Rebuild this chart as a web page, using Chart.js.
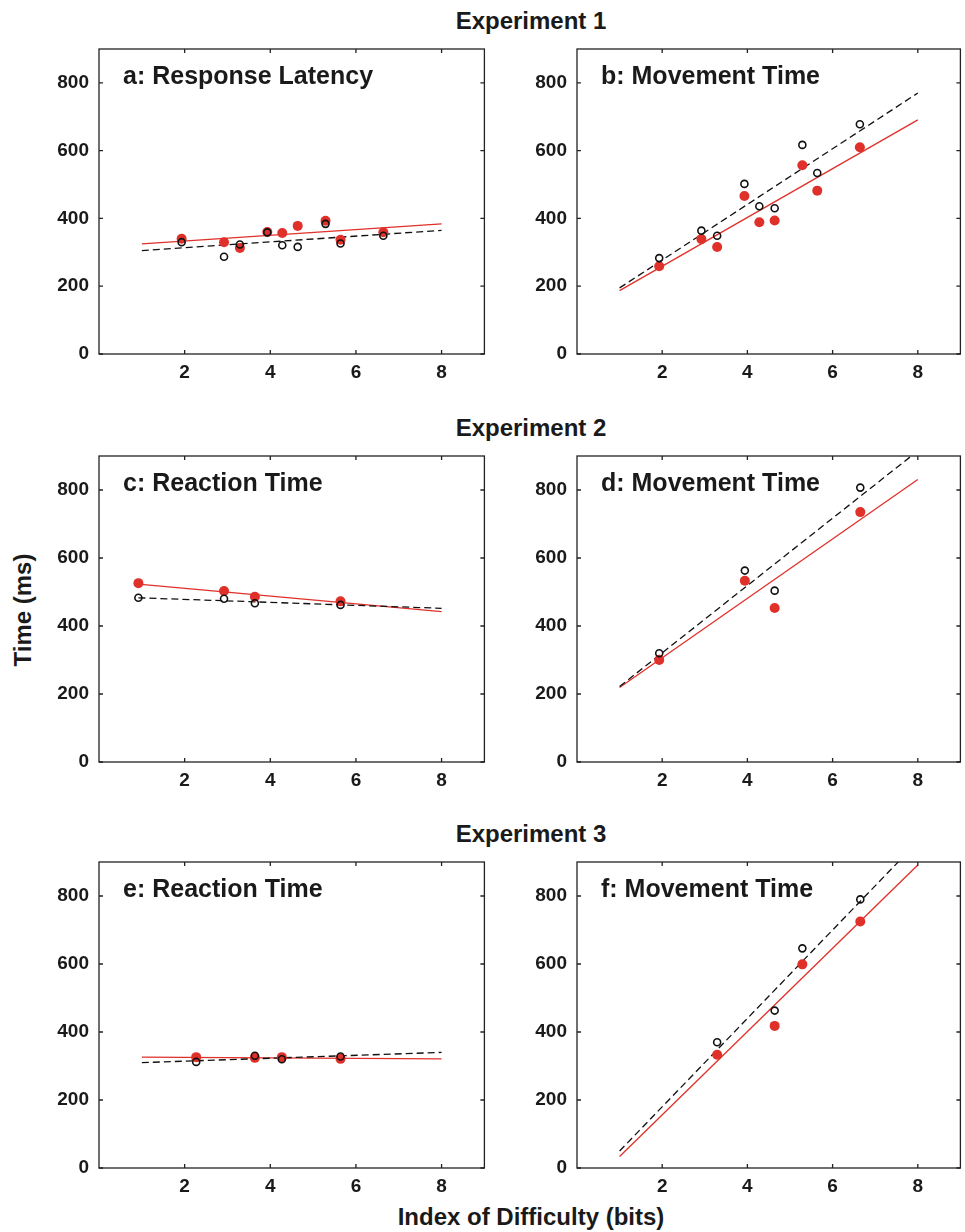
<!DOCTYPE html>
<html>
<head>
<meta charset="utf-8">
<script src="https://cdn.jsdelivr.net/npm/chart.js@4.4.1/dist/chart.umd.min.js"></script>
<style>
  body { margin: 0; background: #fff; width: 965px; height: 1232px; position: relative; overflow: hidden;
         font-family: "Liberation Sans", Arial, Helvetica, sans-serif; font-weight: bold; color: #1a1a1a; }
  canvas { position: absolute; }
  .lbl { position: absolute; white-space: nowrap; }
  .exp { left: 331px; width: 400px; text-align: center; font-size: 24px; line-height: 24px; }
</style>
</head>
<body>
<div class="lbl exp" style="top:9px">Experiment 1</div>
<div class="lbl exp" style="top:416px">Experiment 2</div>
<div class="lbl exp" style="top:822px">Experiment 3</div>
<div class="lbl" style="font-size:24px; line-height:24px; left:-37px; top:598px; width:120px; text-align:center; transform:rotate(-90deg)">Time (ms)</div>
<div class="lbl" style="font-size:24px; line-height:24px; left:331px; top:1205px; width:400px; text-align:center">Index of Difficulty (bits)</div>

<canvas id="pa" width="460" height="354" style="left:30px; top:40px"></canvas>
<canvas id="pb" width="458" height="354" style="left:508px; top:40px"></canvas>
<canvas id="pc" width="460" height="355" style="left:30px; top:447px"></canvas>
<canvas id="pd" width="458" height="355" style="left:508px; top:447px"></canvas>
<canvas id="pe" width="460" height="355" style="left:30px; top:853px"></canvas>
<canvas id="pf" width="458" height="355" style="left:508px; top:853px"></canvas>

<script>
// tick labels
const xTicks = [2, 4, 6, 8];
const yTicks = [0, 200, 400, 600, 800];

// Experiment 1 (a, b)
const idExp1 = [1.93, 2.92, 3.29, 3.93, 4.28, 4.64, 5.29, 5.64, 6.64];
const redA = [340, 330, 313, 360, 357, 378, 393, 337, 359];
const blackA = [330, 287, 323, 359, 321, 316, 384, 326, 349];
const redB = [259, 339, 316, 466, 389, 394, 557, 482, 610];
const blackB = [283, 364, 349, 502, 436, 430, 617, 534, 678];

// Experiment 2 (c, d)
const idC = [0.92, 2.92, 3.64, 5.64];
const redC = [526, 503, 486, 473];
const blackC = [483, 480, 467, 462];
const idD = [1.93, 3.94, 4.64, 6.65];
const redD = [300, 533, 453, 735];
const blackD = [320, 563, 504, 807];

// Experiment 3 (e, f)
const idE = [2.27, 3.64, 4.27, 5.64];
const redE = [326, 324, 326, 321];
const blackE = [312, 330, 320, 328];
const idF = [3.29, 4.64, 5.29, 6.65];
const redF = [333, 418, 599, 725];
const blackF = [370, 463, 646, 790];

// fitted lines, end points
const fitX = [1, 8];
const fitXC = [0.92, 8];
const redFitA = [325, 384], blackFitA = [305, 365];
const redFitB = [187, 691], blackFitB = [195, 770];
const redFitC = [523, 442], blackFitC = [483, 452];
const redFitD = [219, 831], blackFitD = [222, 915];
const redFitE = [326, 321], blackFitE = [310, 340];
const redFitF = [34, 891], blackFitF = [50, 960];

const RED = "#e0302a";
const INK = "#1a1a1a";

Chart.defaults.font.family = '"Liberation Sans", Arial, Helvetica, sans-serif';
Chart.defaults.font.weight = "bold";
Chart.defaults.font.size = 19;
Chart.defaults.color = INK;

const pts = (xs, ys) => xs.map((x, i) => ({ x, y: ys[i] }));

// box round the plot, inward ticks, panel label
const frame = {
  id: "frame",
  afterDatasetsDraw(chart, args, opts) {
    const { ctx, chartArea: a, scales: { x, y } } = chart;
    ctx.save();
    ctx.strokeStyle = "#222";
    ctx.lineWidth = 1.3;
    ctx.strokeRect(a.left, a.top, a.right - a.left, a.bottom - a.top);
    ctx.beginPath();
    xTicks.forEach(v => {
      const px = x.getPixelForValue(v);
      ctx.moveTo(px, a.bottom); ctx.lineTo(px, a.bottom - 4);
      ctx.moveTo(px, a.top); ctx.lineTo(px, a.top + 4);
    });
    yTicks.forEach(v => {
      const py = y.getPixelForValue(v);
      ctx.moveTo(a.left, py); ctx.lineTo(a.left + 4, py);
      ctx.moveTo(a.right, py); ctx.lineTo(a.right - 4, py);
    });
    ctx.stroke();
    ctx.font = 'bold 25px "Liberation Sans", Arial, sans-serif';
    ctx.fillStyle = INK;
    ctx.textBaseline = "alphabetic";
    ctx.fillText(opts.text, a.left + 24, a.top + 35);
    ctx.restore();
  }
};

function panel(id, label, ids, red, black, fx, redFit, blackFit, padRight) {
  new Chart(document.getElementById(id), {
    type: "scatter",
    data: {
      datasets: [
        { data: pts(ids, black), pointRadius: 3.5, pointBorderWidth: 1.6,
          borderColor: "#111", backgroundColor: "rgba(0,0,0,0)" },
        { data: pts(ids, red), pointRadius: 5, pointBorderWidth: 0,
          borderColor: RED, backgroundColor: RED },
        { data: pts(fx, blackFit), showLine: true, pointRadius: 0,
          borderColor: "#111", borderWidth: 1.3, borderDash: [7, 4] },
        { data: pts(fx, redFit), showLine: true, pointRadius: 0,
          borderColor: RED, borderWidth: 1.3 }
      ]
    },
    options: {
      responsive: false,
      animation: false,
      devicePixelRatio: 1,
      layout: { padding: { top: 9, right: padRight, bottom: 0, left: 0 } },
      plugins: { legend: { display: false }, tooltip: { enabled: false }, frame: { text: label } },
      scales: {
        x: {
          type: "linear", min: 0, max: 9,
          grid: { display: false, drawTicks: false, tickLength: 0 },
          border: { display: false },
          afterBuildTicks: s => { s.ticks = xTicks.map(v => ({ value: v })); },
          afterFit: s => { s.height = 40; s.paddingLeft = 0; s.paddingRight = 0; },
          ticks: { padding: 7, maxRotation: 0, autoSkip: false }
        },
        y: {
          type: "linear", min: 0, max: 900,
          grid: { display: false, drawTicks: false, tickLength: 0 },
          border: { display: false },
          afterBuildTicks: s => { s.ticks = yTicks.map(v => ({ value: v })); },
          afterFit: s => { s.width = 69; s.paddingTop = 0; s.paddingBottom = 0; },
          ticks: { padding: 10, autoSkip: false }
        }
      }
    },
    plugins: [frame]
  });
}

panel("pa", "a: Response Latency", idExp1, redA, blackA, fitX, redFitA, blackFitA, 5);
panel("pb", "b: Movement Time", idExp1, redB, blackB, fitX, redFitB, blackFitB, 1);
panel("pc", "c: Reaction Time", idC, redC, blackC, fitXC, redFitC, blackFitC, 5);
panel("pd", "d: Movement Time", idD, redD, blackD, fitX, redFitD, blackFitD, 1);
panel("pe", "e: Reaction Time", idE, redE, blackE, fitX, redFitE, blackFitE, 5);
panel("pf", "f: Movement Time", idF, redF, blackF, fitX, redFitF, blackFitF, 1);
</script>
</body>
</html>
